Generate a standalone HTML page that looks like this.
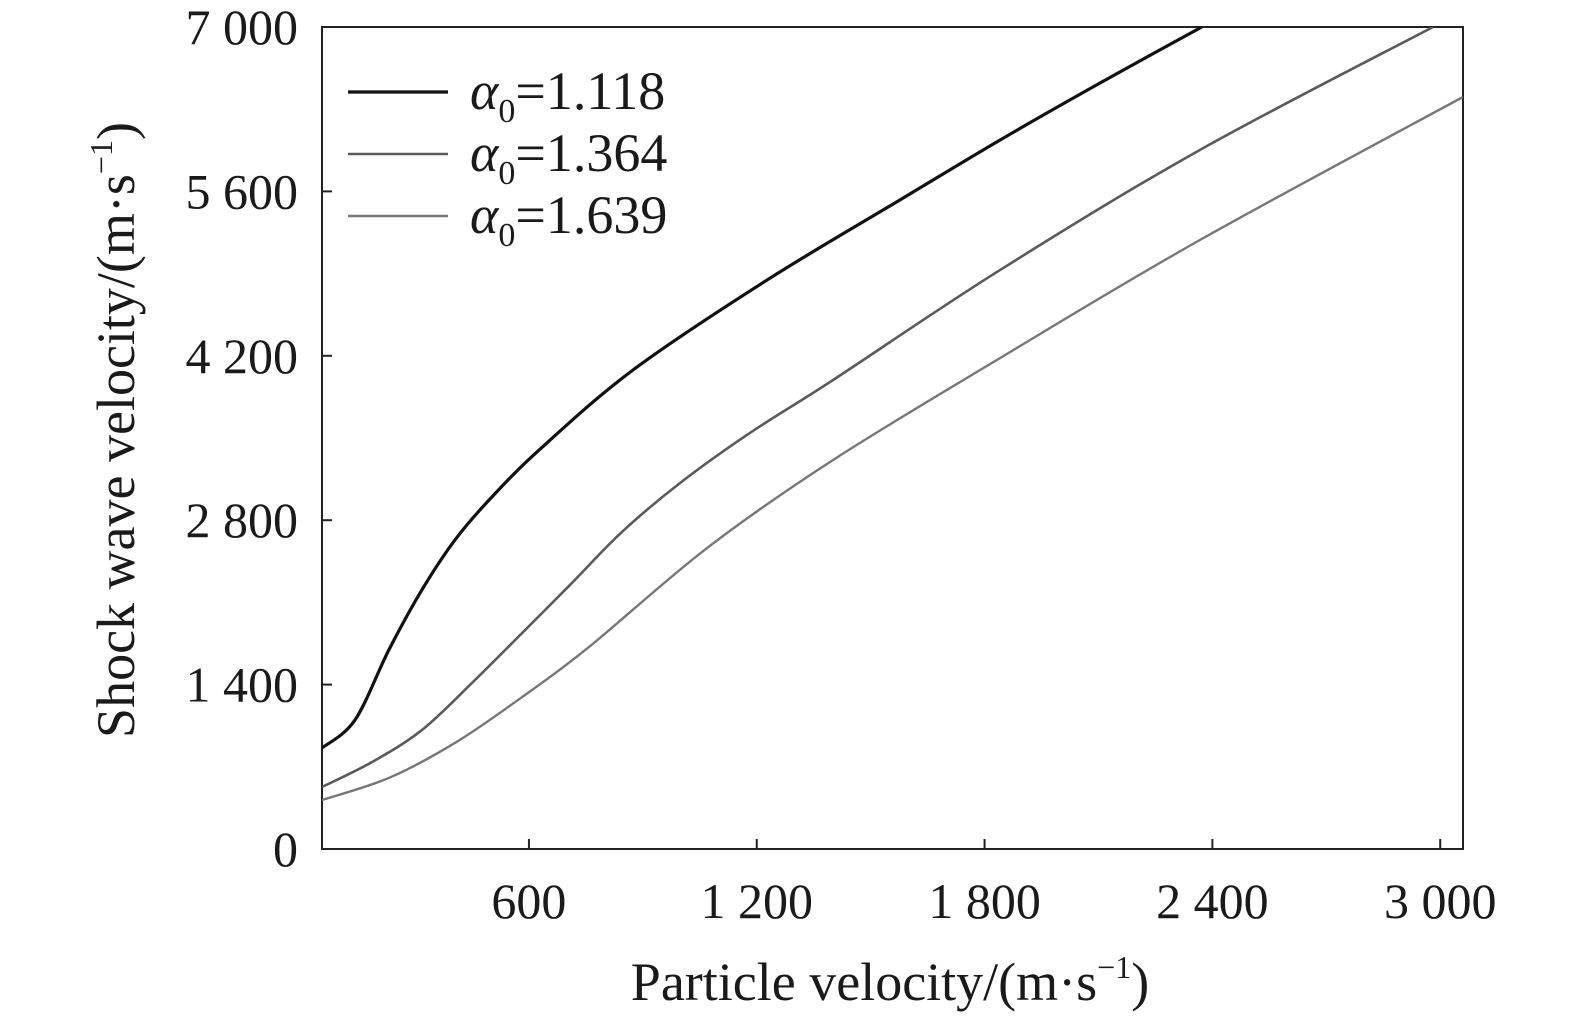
<!DOCTYPE html>
<html><head><meta charset="utf-8"><style>
html,body{margin:0;padding:0;background:#fff;}
svg text{font-family:"Liberation Serif",serif;fill:#1a1a1a;}
</style></head><body>
<svg id="chart" width="1575" height="1021" viewBox="0 0 1575 1021" xmlns="http://www.w3.org/2000/svg">
<g id="plot"></g>
</svg>
<script>
const xTicks=[600,1200,1800,2400,3000];
const xTickLabels=["600","1 200","1 800","2 400","3 000"];
const yTicks=[0,1400,2800,4200,5600,7000];
const yTickLabels=["0","1 400","2 800","4 200","5 600","7 000"];
const seriesNames=["α0=1.118","α0=1.364","α0=1.639"];
const x118=[55,142,231,318,405,495,627,874,1227,1577,1841,2104,2372];
const y118=[860,1099,1695,2206,2631,2972,3398,4079,4845,5527,6038,6523,7000];
const x364=[55,187,318,450,582,713,845,998,1182,1401,1841,2367,2981];
const y364=[528,741,1013,1414,1839,2265,2700,3117,3543,3994,4931,5953,7000];
const x639=[55,231,405,582,758,1069,1401,1841,2367,3060];
const y639=[417,605,903,1294,1720,2563,3313,4181,5186,6404];

const L=322,R=1463,T=27,B=849,XMIN=55,XMAX=3060,YMIN=0,YMAX=7000;
const sx=v=>L+(v-XMIN)/(XMAX-XMIN)*(R-L);
const sy=v=>B-(v-YMIN)/(YMAX-YMIN)*(B-T);
const NS="http://www.w3.org/2000/svg";
const g=document.getElementById('plot');
function mk(t,a){const e=document.createElementNS(NS,t);for(const k in a)e.setAttribute(k,a[k]);g.appendChild(e);return e;}

const frame=mk('rect',{x:L,y:T,width:R-L,height:B-T,fill:'none',stroke:'#222','stroke-width':2});



xTicks.forEach((v,i)=>{
  const t=mk('line',{x1:sx(v),x2:sx(v),y1:B,y2:B-10,stroke:'#222','stroke-width':2});
  
  
  const l=mk('text',{x:sx(v),y:918,'text-anchor':'middle','font-size':50});
  l.textContent=xTickLabels[i];
  
  
});
yTicks.forEach((v,i)=>{
  if(v>0&&v<YMAX){const t=mk('line',{x1:L,x2:L+10,y1:sy(v),y2:sy(v),stroke:'#222','stroke-width':2});
  
  }
  const l=mk('text',{x:298,y:sy(v)+17,'text-anchor':'end','font-size':50});
  l.textContent=yTickLabels[i];
  
  
});

function pathFrom(xs,ys){
  const p=xs.map((x,i)=>[sx(x),sy(ys[i])]);
  let d=`M${p[0][0]},${p[0][1]}`;
  for(let i=0;i<p.length-1;i++){
    const p0=p[i-1]||p[i],p1=p[i],p2=p[i+1],p3=p[i+2]||p[i+1];
    const c1=[p1[0]+(p2[0]-p0[0])/6,p1[1]+(p2[1]-p0[1])/6];
    const c2=[p2[0]-(p3[0]-p1[0])/6,p2[1]-(p3[1]-p1[1])/6];
    d+=`C${c1[0]},${c1[1]} ${c2[0]},${c2[1]} ${p2[0]},${p2[1]}`;
  }
  return d;
}
const cp=document.createElementNS(NS,'clipPath');cp.id='clip';
const cr=document.createElementNS(NS,'rect');
cr.setAttribute('x',L);cr.setAttribute('y',T);cr.setAttribute('width',R-L);cr.setAttribute('height',B-T);
cp.appendChild(cr);g.appendChild(cp);
const styles=[['#111',3.2],['#5a5a5a',2.6],['#777',2.4]];
[[x118,y118],[x364,y364],[x639,y639]].forEach((s,i)=>{
  const p=mk('path',{d:pathFrom(s[0],s[1]),fill:'none',stroke:styles[i][0],'stroke-width':styles[i][1],'clip-path':'url(#clip)'});
  
  
});

[92,154,216].forEach((yy,i)=>{
  const ln=mk('line',{x1:348,x2:448,y1:yy,y2:yy,stroke:styles[i][0],'stroke-width':styles[i][1]});
  
  
  const t=mk('text',{x:470,y:yy+17,'font-size':54});
  
  
  const parts=seriesNames[i].split('0=');
  t.innerHTML=`<tspan font-style="italic">α</tspan><tspan font-size="34" dy="13">0</tspan><tspan dy="-13">=${parts[1]}</tspan>`;
});

const xt=mk('text',{x:890,y:1000,'text-anchor':'middle','font-size':54});
xt.innerHTML='Particle velocity/(m·s<tspan font-size="32" dy="-22">−1</tspan><tspan dy="22">)</tspan>';


const yt=mk('text',{x:0,y:0,'text-anchor':'middle','font-size':54,transform:'translate(134,430) rotate(-90)'});
yt.innerHTML='Shock wave velocity/(m·s<tspan font-size="32" dy="-22">−1</tspan><tspan dy="22">)</tspan>';


</script>
</body></html>
